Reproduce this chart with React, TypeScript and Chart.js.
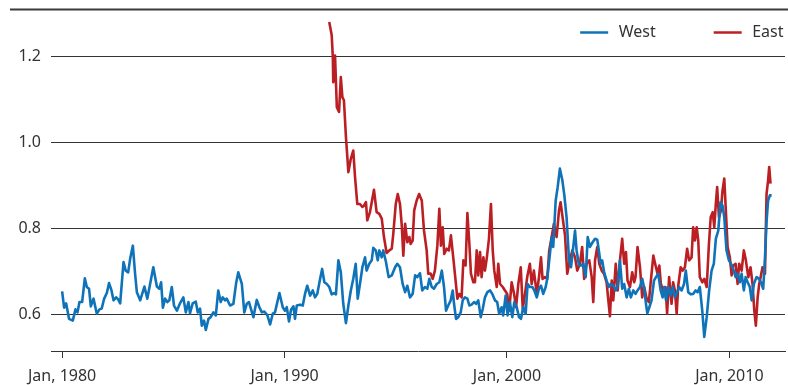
import React, { useEffect, useRef } from "react";
import { Chart, registerables } from "chart.js";

Chart.register(...registerables);

const xTickYears = [1980, 1990, 2000, 2010];
const yTickValues = [0.6, 0.8, 1.0, 1.2];
const seriesNames = ["West", "East"];
const seriesColors = ["#0f73b9", "#bb1f24"];

const westPoints: [number, number][] = [
  [1980.0, 0.654], [1980.09, 0.616], [1980.18, 0.626], [1980.31, 0.59], [1980.48, 0.586], [1980.6, 0.612],
  [1980.69, 0.605], [1980.78, 0.629], [1980.9, 0.629], [1981.02, 0.684], [1981.11, 0.664], [1981.21, 0.66],
  [1981.29, 0.619], [1981.41, 0.637], [1981.56, 0.602], [1981.68, 0.612], [1981.78, 0.614], [1981.89, 0.637],
  [1982.01, 0.65], [1982.11, 0.673], [1982.22, 0.656], [1982.31, 0.633], [1982.43, 0.64], [1982.52, 0.635],
  [1982.61, 0.626], [1982.76, 0.722], [1982.86, 0.702], [1982.97, 0.698], [1983.06, 0.73], [1983.18, 0.76],
  [1983.28, 0.695], [1983.36, 0.652], [1983.51, 0.633], [1983.7, 0.665], [1983.83, 0.637], [1983.96, 0.672],
  [1984.1, 0.71], [1984.26, 0.665], [1984.37, 0.66], [1984.45, 0.675], [1984.53, 0.616], [1984.63, 0.637],
  [1984.73, 0.629], [1984.82, 0.633], [1984.93, 0.664], [1985.03, 0.621], [1985.16, 0.609], [1985.3, 0.626],
  [1985.45, 0.64], [1985.56, 0.605], [1985.68, 0.629], [1985.75, 0.603], [1985.87, 0.626], [1986.01, 0.63],
  [1986.1, 0.605], [1986.2, 0.614], [1986.28, 0.574], [1986.38, 0.586], [1986.46, 0.564], [1986.58, 0.59],
  [1986.68, 0.594], [1986.8, 0.605], [1986.91, 0.598], [1987.02, 0.656], [1987.13, 0.629], [1987.22, 0.64],
  [1987.33, 0.633], [1987.4, 0.637], [1987.55, 0.621], [1987.7, 0.625], [1987.82, 0.672], [1987.92, 0.698],
  [1988.08, 0.671], [1988.19, 0.605], [1988.3, 0.625], [1988.4, 0.629], [1988.49, 0.613], [1988.6, 0.594],
  [1988.75, 0.634], [1988.87, 0.617], [1988.98, 0.605], [1989.09, 0.607], [1989.23, 0.598], [1989.35, 0.577],
  [1989.47, 0.602], [1989.57, 0.605], [1989.77, 0.65], [1989.92, 0.617], [1990.02, 0.609], [1990.1, 0.617],
  [1990.2, 0.584], [1990.29, 0.611], [1990.4, 0.619], [1990.47, 0.59], [1990.55, 0.621], [1990.7, 0.623],
  [1990.82, 0.621], [1990.92, 0.648], [1991.02, 0.667], [1991.15, 0.644], [1991.27, 0.656], [1991.37, 0.64],
  [1991.47, 0.648], [1991.6, 0.683], [1991.69, 0.706], [1991.79, 0.675], [1991.9, 0.671], [1992.01, 0.664],
  [1992.12, 0.647], [1992.22, 0.65], [1992.31, 0.647], [1992.42, 0.726], [1992.53, 0.698], [1992.64, 0.625],
  [1992.76, 0.58], [1992.87, 0.621], [1992.98, 0.656], [1993.09, 0.683], [1993.2, 0.718], [1993.29, 0.637],
  [1993.39, 0.671], [1993.5, 0.71], [1993.62, 0.733], [1993.69, 0.702], [1993.81, 0.718], [1993.92, 0.726],
  [1993.99, 0.755], [1994.1, 0.749], [1994.19, 0.726], [1994.26, 0.749], [1994.37, 0.733], [1994.44, 0.749],
  [1994.56, 0.722], [1994.68, 0.687], [1994.82, 0.691], [1994.97, 0.71], [1995.07, 0.718], [1995.19, 0.71],
  [1995.31, 0.671], [1995.42, 0.652], [1995.52, 0.667], [1995.64, 0.64], [1995.76, 0.648], [1995.87, 0.691],
  [1995.97, 0.687], [1996.09, 0.696], [1996.19, 0.656], [1996.31, 0.664], [1996.42, 0.66], [1996.51, 0.683],
  [1996.62, 0.664], [1996.72, 0.66], [1996.84, 0.671], [1996.96, 0.675], [1997.07, 0.702], [1997.17, 0.664],
  [1997.26, 0.609], [1997.36, 0.621], [1997.47, 0.633], [1997.56, 0.656], [1997.62, 0.625], [1997.71, 0.59],
  [1997.81, 0.594], [1997.92, 0.605], [1998.01, 0.633], [1998.11, 0.64], [1998.22, 0.637], [1998.31, 0.621],
  [1998.41, 0.623], [1998.52, 0.629], [1998.61, 0.625], [1998.71, 0.633], [1998.82, 0.594], [1998.91, 0.613],
  [1999.01, 0.64], [1999.12, 0.652], [1999.24, 0.656], [1999.34, 0.648], [1999.46, 0.633], [1999.56, 0.629],
  [1999.65, 0.602], [1999.76, 0.617], [1999.83, 0.598], [1999.94, 0.644], [2000.03, 0.598], [2000.13, 0.629],
  [2000.24, 0.594], [2000.33, 0.629], [2000.44, 0.617], [2000.54, 0.594], [2000.63, 0.59], [2000.73, 0.617],
  [2000.84, 0.602], [2000.93, 0.671], [2001.03, 0.664], [2001.14, 0.664], [2001.23, 0.656], [2001.34, 0.64],
  [2001.44, 0.66], [2001.53, 0.667], [2001.63, 0.648], [2001.74, 0.664], [2001.81, 0.683], [2001.9, 0.726],
  [2002.01, 0.78], [2002.08, 0.757], [2002.19, 0.865], [2002.28, 0.896], [2002.38, 0.939], [2002.49, 0.912],
  [2002.58, 0.877], [2002.68, 0.826], [2002.79, 0.726], [2002.88, 0.71], [2002.98, 0.757], [2003.06, 0.795],
  [2003.13, 0.749], [2003.24, 0.714], [2003.33, 0.714], [2003.43, 0.718], [2003.54, 0.687], [2003.63, 0.78],
  [2003.73, 0.757], [2003.85, 0.768], [2003.96, 0.776], [2004.06, 0.774], [2004.13, 0.749], [2004.21, 0.718],
  [2004.28, 0.726], [2004.37, 0.698], [2004.48, 0.679], [2004.58, 0.664], [2004.66, 0.671], [2004.78, 0.667],
  [2004.89, 0.656], [2004.98, 0.667], [2005.08, 0.726], [2005.18, 0.66], [2005.27, 0.671], [2005.38, 0.64],
  [2005.48, 0.66], [2005.57, 0.64], [2005.68, 0.656], [2005.78, 0.648], [2005.87, 0.656], [2005.98, 0.664],
  [2006.08, 0.683], [2006.16, 0.664], [2006.25, 0.625], [2006.31, 0.603], [2006.4, 0.617], [2006.5, 0.633],
  [2006.61, 0.679], [2006.7, 0.687], [2006.8, 0.695], [2006.91, 0.656], [2007.0, 0.64], [2007.07, 0.664],
  [2007.15, 0.633], [2007.25, 0.664], [2007.36, 0.644], [2007.45, 0.664], [2007.55, 0.64], [2007.65, 0.652],
  [2007.74, 0.664], [2007.85, 0.656], [2007.96, 0.671], [2008.04, 0.702], [2008.15, 0.652], [2008.26, 0.647],
  [2008.37, 0.648], [2008.48, 0.656], [2008.57, 0.652], [2008.67, 0.664], [2008.78, 0.609], [2008.87, 0.548],
  [2008.98, 0.594], [2009.09, 0.656], [2009.2, 0.702], [2009.3, 0.718], [2009.39, 0.776], [2009.5, 0.795],
  [2009.6, 0.861], [2009.69, 0.853], [2009.77, 0.826], [2009.87, 0.749], [2009.98, 0.726], [2010.07, 0.718],
  [2010.17, 0.706], [2010.28, 0.687], [2010.37, 0.695], [2010.47, 0.675], [2010.55, 0.695], [2010.65, 0.656],
  [2010.73, 0.687], [2010.82, 0.675], [2010.92, 0.664], [2011.0, 0.633], [2011.1, 0.671], [2011.22, 0.687],
  [2011.33, 0.683], [2011.42, 0.675], [2011.52, 0.66], [2011.6, 0.733], [2011.67, 0.815], [2011.74, 0.865],
  [2011.82, 0.877], [2011.9, 0.877],
];

const eastPoints: [number, number][] = [
  [1992.01, 1.28], [1992.12, 1.249], [1992.17, 1.199], [1992.19, 1.14], [1992.27, 1.202], [1992.35, 1.082],
  [1992.45, 1.071], [1992.53, 1.152], [1992.6, 1.105], [1992.67, 1.098], [1992.76, 1.013], [1992.87, 0.931],
  [1992.98, 0.962], [1993.09, 0.981], [1993.17, 0.919], [1993.27, 0.857], [1993.39, 0.857], [1993.5, 0.85],
  [1993.57, 0.853], [1993.66, 0.861], [1993.72, 0.819], [1993.84, 0.838], [1993.92, 0.861], [1994.02, 0.89],
  [1994.14, 0.838], [1994.26, 0.834], [1994.37, 0.823], [1994.47, 0.78], [1994.59, 0.743], [1994.71, 0.749],
  [1994.82, 0.753], [1994.89, 0.788], [1995.0, 0.857], [1995.09, 0.88], [1995.19, 0.857], [1995.27, 0.807],
  [1995.34, 0.737], [1995.42, 0.811], [1995.52, 0.768], [1995.61, 0.78], [1995.67, 0.764], [1995.76, 0.772],
  [1995.83, 0.842], [1995.94, 0.865], [1996.05, 0.88], [1996.17, 0.865], [1996.27, 0.795], [1996.39, 0.749],
  [1996.46, 0.695], [1996.57, 0.695], [1996.66, 0.683], [1996.76, 0.702], [1996.87, 0.76], [1996.96, 0.846],
  [1997.03, 0.76], [1997.11, 0.803], [1997.18, 0.741], [1997.29, 0.753], [1997.39, 0.749], [1997.48, 0.784],
  [1997.59, 0.73], [1997.69, 0.679], [1997.77, 0.637], [1997.86, 0.648], [1997.96, 0.64], [1998.04, 0.726],
  [1998.14, 0.714], [1998.22, 0.836], [1998.31, 0.764], [1998.38, 0.695], [1998.49, 0.675], [1998.56, 0.675],
  [1998.64, 0.749], [1998.71, 0.691], [1998.79, 0.745], [1998.86, 0.687], [1998.94, 0.733], [1999.01, 0.702],
  [1999.09, 0.73], [1999.19, 0.776], [1999.28, 0.857], [1999.36, 0.749], [1999.43, 0.702], [1999.54, 0.664],
  [1999.61, 0.718], [1999.69, 0.671], [1999.81, 0.664], [1999.91, 0.656], [2000.01, 0.648], [2000.1, 0.609],
  [2000.21, 0.675], [2000.32, 0.648], [2000.41, 0.617], [2000.51, 0.671], [2000.62, 0.71], [2000.71, 0.613],
  [2000.81, 0.648], [2000.91, 0.687], [2001.03, 0.718], [2001.11, 0.671], [2001.21, 0.702], [2001.34, 0.648],
  [2001.44, 0.687], [2001.53, 0.733], [2001.6, 0.683], [2001.71, 0.687], [2001.81, 0.683], [2001.9, 0.749],
  [2002.01, 0.78], [2002.11, 0.811], [2002.23, 0.78], [2002.34, 0.842], [2002.41, 0.861], [2002.5, 0.826],
  [2002.61, 0.784], [2002.71, 0.695], [2002.83, 0.726], [2002.94, 0.749], [2003.06, 0.733], [2003.16, 0.702],
  [2003.28, 0.718], [2003.38, 0.757], [2003.47, 0.683], [2003.58, 0.718], [2003.7, 0.726], [2003.81, 0.687],
  [2003.88, 0.629], [2003.96, 0.726], [2004.06, 0.757], [2004.15, 0.718], [2004.26, 0.702], [2004.36, 0.695],
  [2004.48, 0.675], [2004.55, 0.637], [2004.63, 0.596], [2004.71, 0.679], [2004.78, 0.633], [2004.89, 0.718],
  [2004.98, 0.656], [2005.08, 0.726], [2005.18, 0.776], [2005.27, 0.718], [2005.35, 0.745], [2005.42, 0.679],
  [2005.53, 0.664], [2005.63, 0.698], [2005.72, 0.675], [2005.78, 0.687], [2005.87, 0.757], [2005.98, 0.71],
  [2006.08, 0.64], [2006.17, 0.664], [2006.28, 0.637], [2006.38, 0.629], [2006.47, 0.679], [2006.58, 0.737],
  [2006.68, 0.714], [2006.77, 0.695], [2006.85, 0.714], [2006.92, 0.671], [2007.03, 0.656], [2007.13, 0.664],
  [2007.2, 0.602], [2007.29, 0.687], [2007.4, 0.625], [2007.47, 0.675], [2007.55, 0.656], [2007.63, 0.602],
  [2007.7, 0.667], [2007.81, 0.71], [2007.9, 0.702], [2008.0, 0.71], [2008.1, 0.753], [2008.19, 0.726],
  [2008.3, 0.733], [2008.37, 0.803], [2008.45, 0.772], [2008.53, 0.803], [2008.6, 0.772], [2008.67, 0.687],
  [2008.78, 0.675], [2008.87, 0.683], [2008.98, 0.664], [2009.08, 0.764], [2009.16, 0.826], [2009.25, 0.838],
  [2009.32, 0.803], [2009.39, 0.857], [2009.45, 0.896], [2009.53, 0.826], [2009.62, 0.842], [2009.69, 0.888],
  [2009.77, 0.916], [2009.84, 0.842], [2009.92, 0.757], [2010.02, 0.733], [2010.1, 0.691], [2010.17, 0.714],
  [2010.28, 0.718], [2010.37, 0.671], [2010.44, 0.718], [2010.55, 0.702], [2010.65, 0.749], [2010.74, 0.726],
  [2010.85, 0.687], [2010.95, 0.71], [2011.04, 0.671], [2011.12, 0.609], [2011.19, 0.574], [2011.27, 0.64],
  [2011.34, 0.671], [2011.42, 0.691], [2011.49, 0.71], [2011.6, 0.695], [2011.67, 0.88], [2011.74, 0.912],
  [2011.79, 0.943], [2011.85, 0.904],
];

const FONT = "'Noto Sans', sans-serif";
const TEXT = "#333333";

const decorPlugin = {
  id: "decor",
  afterDraw(chart: any) {
    const { ctx, chartArea } = chart;
    ctx.save();
    // top rule
    ctx.strokeStyle = "#3a3a3a";
    ctx.lineWidth = 2;
    ctx.beginPath();
    ctx.moveTo(10, 9.5);
    ctx.lineTo(chart.width, 9.5);
    ctx.stroke();
    // legend
    ctx.font = `16px ${FONT}`;
    ctx.textBaseline = "middle";
    ctx.textAlign = "left";
    const y = 32.5;
    let right = chartArea.right - 1.5;
    const ds = chart.data.datasets;
    for (let i = ds.length - 1; i >= 0; i--) {
      const label = ds[i].label as string;
      const w = ctx.measureText(label).width;
      const textX = right - w;
      const lineEnd = textX - 10.5;
      const lineStart = lineEnd - 28;
      ctx.fillStyle = TEXT;
      ctx.fillText(label, textX, y);
      ctx.strokeStyle = ds[i].borderColor;
      ctx.lineWidth = 2.5;
      ctx.beginPath();
      ctx.moveTo(lineStart, y);
      ctx.lineTo(lineEnd, y);
      ctx.stroke();
      right = lineStart - 58;
    }
    ctx.restore();
  },
};

export default function App() {
  const ref = useRef<HTMLCanvasElement | null>(null);

  useEffect(() => {
    if (!ref.current) return;
    const chart = new Chart(ref.current, {
      type: "line",
      data: {
        datasets: [
          {
            label: seriesNames[0],
            data: westPoints.map(([x, y]) => ({ x, y })),
            borderColor: seriesColors[0],
            backgroundColor: seriesColors[0],
            borderWidth: 2.6,
            pointRadius: 0,
            tension: 0,
            borderJoinStyle: "round",
          },
          {
            label: seriesNames[1],
            data: eastPoints.map(([x, y]) => ({ x, y })),
            borderColor: seriesColors[1],
            backgroundColor: seriesColors[1],
            borderWidth: 2.6,
            pointRadius: 0,
            tension: 0,
            borderJoinStyle: "round",
          },
        ],
      },
      options: {
        responsive: false,
        animation: false,
        layout: { padding: { top: 13.3, right: 3, left: 0, bottom: 0 } },
        plugins: {
          legend: { display: false },
          tooltip: { enabled: false },
        },
        scales: {
          x: {
            type: "linear",
            min: 1979.5,
            max: 2012.5,
            afterBuildTicks: (scale: any) => {
              scale.ticks = xTickYears.map((v) => ({ value: v }));
            },
            afterFit: (scale: any) => {
              scale.height = 34;
              scale.paddingLeft = 0;
              scale.paddingRight = 0;
            },
            grid: {
              display: true,
              drawOnChartArea: false,
              drawTicks: true,
              tickLength: 7,
              color: "#333333",
              lineWidth: 1,
            },
            border: { display: true, color: "#333333", width: 1 },
            ticks: {
              color: TEXT,
              font: { family: FONT, size: 16 },
              padding: 9,
              maxRotation: 0,
              callback: (v: any) => `Jan, ${v}`,
            },
          },
          y: {
            type: "linear",
            min: 0.5153,
            max: 1.3,
            afterBuildTicks: (scale: any) => {
              scale.ticks = yTickValues.map((v) => ({ value: v }));
            },
            afterFit: (scale: any) => {
              scale.width = 51;
              scale.paddingTop = 0;
              scale.paddingBottom = 0;
            },
            grid: { color: "#333333", lineWidth: 1, drawTicks: false },
            border: { display: false },
            ticks: {
              color: TEXT,
              font: { family: FONT, size: 16 },
              padding: 10,
              callback: (v: any) => Number(v).toFixed(1),
            },
          },
        },
      },
      plugins: [decorPlugin],
    });
    return () => chart.destroy();
  }, []);

  return (
    <div style={{ position: "absolute", left: 0, top: 0, width: 788, height: 385 }}>
      <canvas ref={ref} width={788} height={385} style={{ display: "block" }} />
    </div>
  );
}
